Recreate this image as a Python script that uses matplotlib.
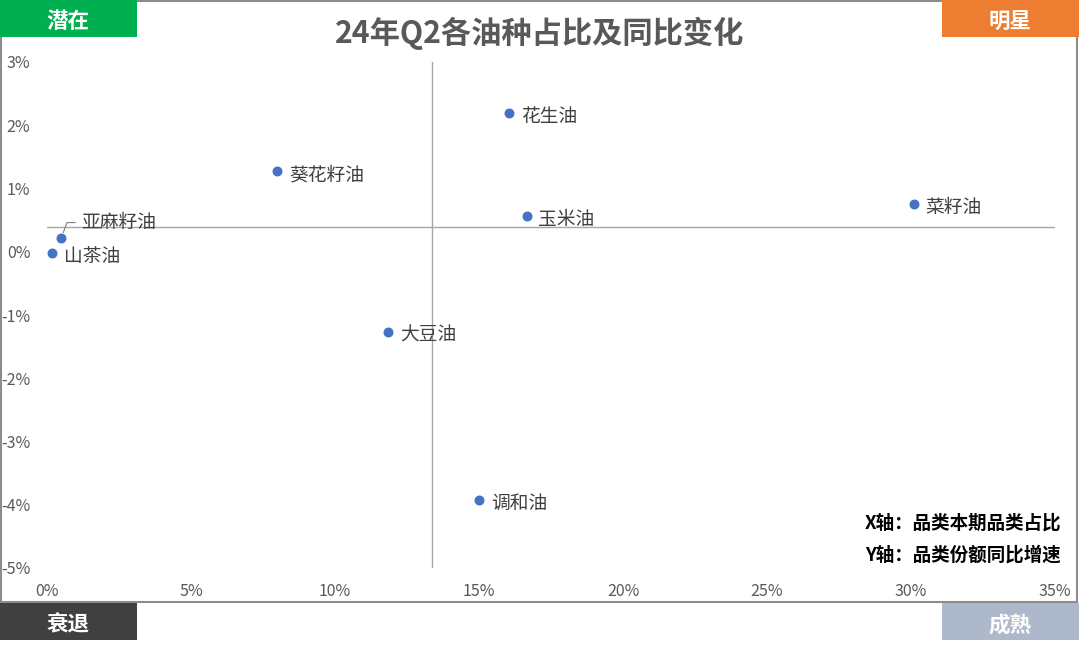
import matplotlib.pyplot as plt
from matplotlib.patches import Rectangle
from matplotlib.ticker import FuncFormatter

plt.rcParams['font.family'] = ['Noto Sans CJK SC', 'DejaVu Sans']

# data (x = category share %, y = YoY change of share %)
names = ["花生油", "葵花籽油", "菜籽油", "玉米油", "亚麻籽油", "山茶油", "大豆油", "调和油"]
share = [16.05, 8.0, 30.1, 16.65, 0.5, 0.17, 11.85, 15.0]
yoy = [2.19, 1.27, 0.75, 0.56, 0.22, -0.02, -1.27, -3.93]
x_mid = 13.37
y_mid = 0.39

W, H = 1080, 649
fig = plt.figure(figsize=(W / 100, H / 100), dpi=100)

def fx(px):
    return px / W

def fy(py):
    return 1 - py / H

ax = fig.add_axes([fx(47), fy(568), fx(1055) - fx(47), fy(62) - fy(568)])
ax.set_xlim(0, 35)
ax.set_ylim(-5, 3)
for s in ax.spines.values():
    s.set_visible(False)
ax.set_xticks(range(0, 36, 5))
ax.set_yticks(range(-5, 4))
pct = FuncFormatter(lambda v, p: "%d%%" % v)
ax.xaxis.set_major_formatter(pct)
ax.yaxis.set_major_formatter(pct)
ax.tick_params(length=0, labelsize=11.5, labelcolor="#595959")
ax.tick_params(axis="x", pad=11)
ax.tick_params(axis="y", pad=12)

ax.axvline(x_mid, color="#a6a6a6", lw=1, zorder=1)
ax.axhline(y_mid, color="#a6a6a6", lw=1, zorder=1)

ax.scatter(share, yoy, s=38, color="#4472C4", zorder=3)
for n, x, y in zip(names, share, yoy):
    if n == "亚麻籽油":
        ax.annotate(n, (x, y), xytext=(14, 11), textcoords="offset points",
                    fontsize=13.5, color="#404040", va="center", ha="left",
                    arrowprops=dict(arrowstyle="-", color="#7f7f7f", lw=0.8,
                                    connectionstyle="angle,angleA=0,angleB=70,rad=0",
                                    shrinkA=2, shrinkB=4))
    else:
        ax.annotate(n, (x, y), xytext=(8.5, -2.3), textcoords="offset points",
                    fontsize=13.5, color="#404040", va="center", ha="left")

ax.text(1.006, 0.088, "X轴：品类本期品类占比", transform=ax.transAxes, ha="right",
        va="center", fontsize=13.3, fontweight="bold", color="black")
ax.text(1.006, 0.025, "Y轴：品类份额同比增速", transform=ax.transAxes, ha="right",
        va="center", fontsize=13.3, fontweight="bold", color="black")

# outer frame
fig.patches.append(Rectangle((fx(1), fy(602)), fx(1077) - fx(1), fy(1) - fy(602),
                             transform=fig.transFigure, fill=False,
                             edgecolor="#8c8c8c", lw=1.5, zorder=0))

fig.text(0.5, fy(33), "24年Q2各油种占比及同比变化", ha="center", va="center",
         fontsize=21.8, fontweight="bold", color="#595959")

corners = [("潜在", 0, 0, "#00B050"), ("明星", 942, 0, "#ED7D31"),
           ("衰退", 0, 603, "#404040"), ("成熟", 942, 603, "#ADB9CA")]
for lab, px, py, c in corners:
    fig.patches.append(Rectangle((fx(px), fy(py + 37)), fx(137), fy(0) - fy(37),
                                 transform=fig.transFigure, facecolor=c,
                                 edgecolor="none", zorder=2))
    fig.text(fx(px + 68), fy(py + 22), lab, ha="center", va="center",
             fontsize=15.5, fontweight="bold", color="white", zorder=3)

fig.savefig("out.png", dpi=100)
